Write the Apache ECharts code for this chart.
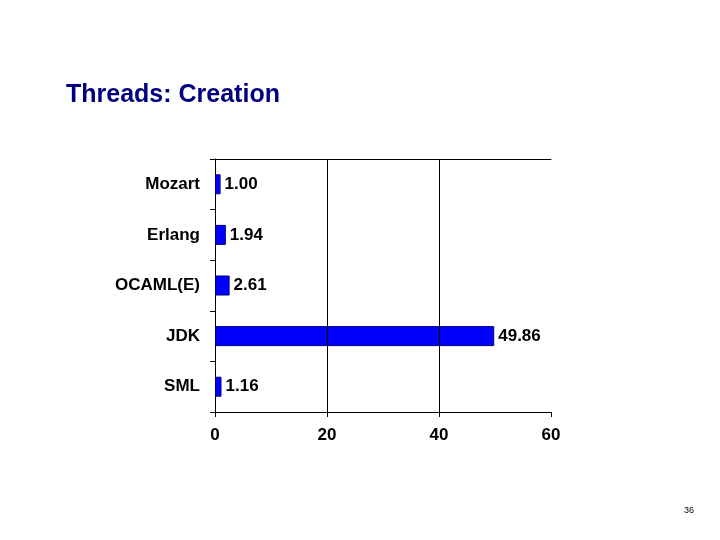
<!DOCTYPE html>
<html><head><meta charset="utf-8">
<script src="https://cdn.jsdelivr.net/npm/echarts@6/dist/echarts.min.js"></script>
<style>body{margin:0;background:#fff}#c{width:720px;height:540px}</style>
</head><body><div id="c"></div>
<script>
const categories = ['Mozart','Erlang','OCAML(E)','JDK','SML'];
const values = [1.00, 1.94, 2.61, 49.86, 1.16];
const xTicks = [0, 20, 40, 60];
const gridLines = [20, 40];
const chart = echarts.init(document.getElementById('c'));
const F = 'Arial, "Liberation Sans", sans-serif';
chart.setOption({
  backgroundColor:'#fff',
  animation:false,
  title:{text:'Threads: Creation',left:61,top:78,textStyle:{fontFamily:F,fontSize:25,fontWeight:'bold',color:'#000080'}},
  graphic:[{type:'text',left:684,top:506,style:{text:'36',fontFamily:F,fontSize:9,fill:'#000'}}],
  grid:{left:215,right:169,top:159,bottom:128},
  xAxis:[{type:'value',min:xTicks[0],max:xTicks[3],interval:20,
    axisLine:{show:true,lineStyle:{color:'#000'}},axisTick:{show:true,length:5,lineStyle:{color:'#000'}},
    splitLine:{show:false},
    axisLabel:{margin:15,fontFamily:F,fontSize:17,fontWeight:'bold',color:'#000'}},
    {type:'value',position:'top',min:0,max:60,axisLine:{show:true,lineStyle:{color:'#000'}},axisTick:{show:false},axisLabel:{show:false},splitLine:{show:false}}],
  yAxis:{type:'category',data:categories,inverse:true,
    axisLine:{show:true,lineStyle:{color:'#000'}},axisTick:{show:true,length:5,lineStyle:{color:'#000'}},
    axisLabel:{margin:15,fontFamily:F,fontSize:17,fontWeight:'bold',color:'#000'}},
  series:[{type:'bar',data:values,barWidth:20,
    itemStyle:{color:'#0000ff',borderColor:'#000080',borderWidth:1},
    label:{show:true,position:'right',distance:4,formatter:p=>p.value.toFixed(2),fontFamily:F,fontSize:17,fontWeight:'bold',color:'#000'},
    markLine:{silent:true,symbol:'none',label:{show:false},lineStyle:{color:'#000',type:'solid',width:1},
      data:gridLines.map(v=>({xAxis:v}))}}]
});
</script></body></html>
